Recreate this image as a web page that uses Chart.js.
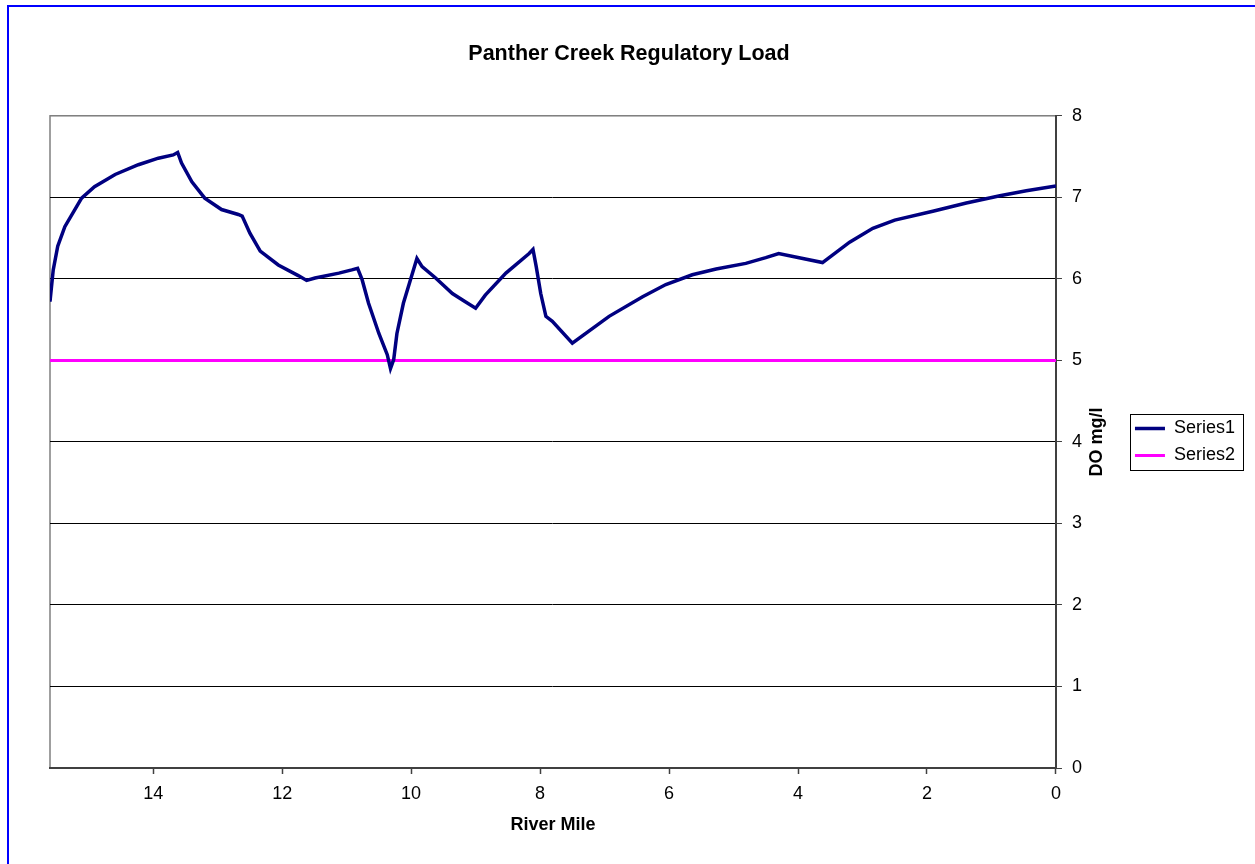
<!DOCTYPE html>
<html>
<head>
<meta charset="utf-8">
<title>Panther Creek Regulatory Load</title>
<script src="https://cdn.jsdelivr.net/npm/chart.js@4.4.0/dist/chart.umd.min.js"></script>
<style>
  html, body { margin: 0; padding: 0; background: #fff; }
  #chart { display: block; }
</style>
</head>
<body>
<canvas id="chart" width="1255" height="864"></canvas>
<script>
// DATA: aflæst fra referencen
const riverMile = [15.60, 15.55, 15.48, 15.37, 15.11, 14.91, 14.59, 14.23, 13.92, 13.69,
  13.62, 13.56, 13.40, 13.20, 12.94, 12.68, 12.62, 12.50, 12.34, 12.06,
  11.75, 11.62, 11.49, 11.12, 10.92, 10.83, 10.76, 10.66, 10.50, 10.37,
  10.32, 10.27, 10.22, 10.12, 10.01, 9.91, 9.83, 9.62, 9.36, 9.16,
  9.00, 8.85, 8.53, 8.17, 8.11, 8.06, 7.99, 7.91, 7.81, 7.50,
  6.93, 6.41, 6.05, 5.64, 5.27, 4.81, 4.50, 4.30, 3.62, 3.20,
  2.84, 2.50, 1.91, 1.39, 0.87, 0.46, 0.00];
const doMgL = [5.72, 6.11, 6.40, 6.64, 6.99, 7.13, 7.28, 7.40, 7.48, 7.52,
  7.55, 7.42, 7.19, 6.99, 6.85, 6.79, 6.77, 6.56, 6.34, 6.17,
  6.04, 5.98, 6.01, 6.07, 6.11, 6.13, 5.99, 5.70, 5.33, 5.07,
  4.90, 5.01, 5.33, 5.70, 5.99, 6.25, 6.15, 6.01, 5.82, 5.72,
  5.64, 5.80, 6.07, 6.31, 6.36, 6.15, 5.82, 5.54, 5.48, 5.21,
  5.54, 5.78, 5.93, 6.05, 6.12, 6.19, 6.26, 6.31, 6.20, 6.45,
  6.62, 6.72, 6.83, 6.93, 7.02, 7.08, 7.14];
const standardMile = [15.6, 0];
const standardDO = [5, 5];
const xTickValues = [0, 2, 4, 6, 8, 10, 12, 14];
const yTickValues = [0, 1, 2, 3, 4, 5, 6, 7, 8];

const FONT = '"Liberation Sans", Arial, sans-serif';

// byg {x,y}-punkter fra arrays
const toPoints = (xs, ys) => xs.map((x, i) => ({ x, y: ys[i] }));

// RAMME: hvid baggrund, blå kant og grå plot-kant
const framePlugin = {
  id: 'frame',
  beforeDraw(chart) {
    const { ctx, chartArea: a } = chart;
    ctx.save();
    ctx.fillStyle = '#fff';
    ctx.fillRect(0, 0, chart.width, chart.height);
    ctx.strokeStyle = '#0000ff';
    ctx.lineWidth = 2;
    ctx.beginPath();
    ctx.moveTo(8, chart.height);
    ctx.lineTo(8, 6);
    ctx.lineTo(chart.width, 6);
    ctx.stroke();
    ctx.strokeStyle = '#808080';
    ctx.lineWidth = 1.5;
    ctx.strokeRect(a.left, a.top, a.right - a.left, a.bottom - a.top);
    ctx.restore();
  },
  afterLayout(chart) {
    // centrer titlen over hele billedet
    if (chart.titleBlock) { chart.titleBlock.left = 0; chart.titleBlock.right = 1258; }
  },
  afterDraw(chart) {
    const { ctx } = chart;
    ctx.save();
    // kant om legend
    const boxes = chart.legend.legendHitBoxes;
    if (boxes && boxes.length) {
      const l = Math.min(...boxes.map(b => b.left)) - 5;
      const t = Math.min(...boxes.map(b => b.top)) - 5;
      const r = Math.max(...boxes.map(b => b.left + b.width)) + 8;
      const btm = Math.max(...boxes.map(b => b.top + b.height)) + 6;
      ctx.strokeStyle = '#000';
      ctx.lineWidth = 1;
      ctx.strokeRect(Math.round(l) + 0.5, Math.round(t) + 0.5, Math.round(r - l), Math.round(btm - t));
    }
    // y-aksens titel, læst nedefra og op
    const ys = chart.scales.y;
    ctx.translate(ys.left + 41, (chart.chartArea.top + chart.chartArea.bottom) / 2);
    ctx.rotate(-Math.PI / 2);
    ctx.font = 'bold 18px ' + FONT;
    ctx.fillStyle = '#000';
    ctx.textAlign = 'center';
    ctx.textBaseline = 'middle';
    ctx.fillText('DO mg/l', 0, 0);
    ctx.restore();
  }
};

new Chart(document.getElementById('chart'), {
  type: 'line',
  data: {
    datasets: [
      {
        label: 'Series1',
        data: toPoints(riverMile, doMgL),
        borderColor: '#000080',
        backgroundColor: '#000080',
        borderWidth: 3.5,
        pointRadius: 0,
        tension: 0,
        fill: false
      },
      {
        label: 'Series2',
        data: toPoints(standardMile, standardDO),
        borderColor: '#ff00ff',
        backgroundColor: '#ff00ff',
        borderWidth: 3,
        pointRadius: 0,
        fill: false
      }
    ]
  },
  options: {
    responsive: false,
    animation: false,
    devicePixelRatio: 1,
    layout: { padding: { left: 50, right: 10, top: 0, bottom: 0 } },
    plugins: {
      title: {
        display: true,
        text: 'Panther Creek Regulatory Load',
        color: '#000',
        font: { family: FONT, size: 21.5, weight: 'bold' },
        padding: { top: 41, bottom: 49 }
      },
      legend: {
        position: 'right',
        fullSize: false,
        labels: {
          usePointStyle: true,
          pointStyle: 'line',
          pointStyleWidth: 30,
          padding: 9,
          color: '#000',
          font: { family: FONT, size: 18 }
        }
      },
      tooltip: { enabled: false }
    },
    scales: {
      x: {
        type: 'linear',
        reverse: true,
        min: 0,
        max: 15.6,
        afterBuildTicks: s => { s.ticks = xTickValues.map(v => ({ value: v })); },
        afterFit: s => { s.height = 96; },
        grid: { drawOnChartArea: false, tickLength: 6, tickColor: '#404040', tickWidth: 1.5 },
        border: { display: true, color: '#404040', width: 2 },
        ticks: { color: '#000', padding: 9, maxRotation: 0, font: { family: FONT, size: 18 } },
        title: {
          display: true,
          text: 'River Mile',
          color: '#000',
          font: { family: FONT, size: 18, weight: 'bold' },
          padding: { top: 0, bottom: 28 }
        }
      },
      y: {
        position: 'right',
        min: 0,
        max: 8,
        afterBuildTicks: s => { s.ticks = yTickValues.map(v => ({ value: v })); },
        afterFit: s => { s.width = 70; },
        grid: {
          color: c => (c.tick && c.tick.value === 8 ? '#808080' : c.tick && c.tick.value === 0 ? 'rgba(0,0,0,0)' : '#000'),
          lineWidth: 1,
          tickLength: 6,
          tickColor: '#404040'
        },
        border: { display: true, color: '#404040', width: 2 },
        ticks: { color: '#000', padding: 10, font: { family: FONT, size: 18 } },
        title: { display: false }
      }
    }
  },
  plugins: [framePlugin]
});
</script>
</body>
</html>
